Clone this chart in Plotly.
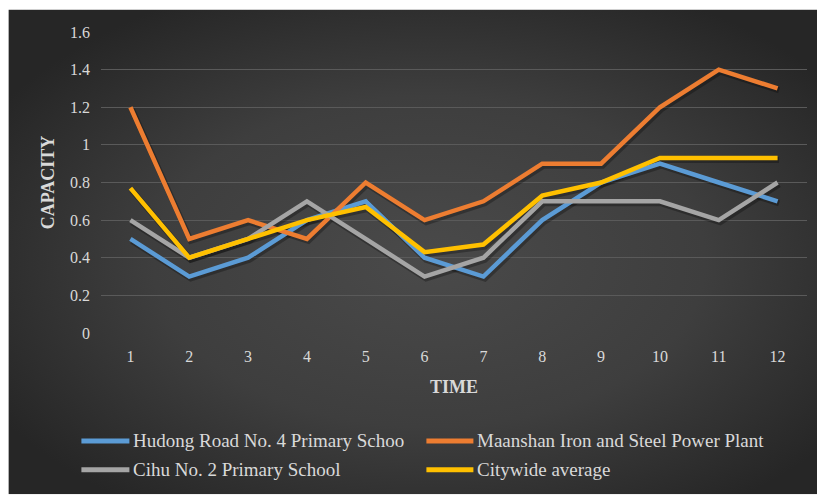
import base64
import plotly.graph_objects as go

# ---- data -------------------------------------------------------------
months = [1, 2, 3, 4, 5, 6, 7, 8, 9, 10, 11, 12]
hudong = [0.5, 0.3, 0.4, 0.6, 0.7, 0.4, 0.3, 0.6, 0.8, 0.9, 0.8, 0.7]
maanshan = [1.2, 0.5, 0.6, 0.5, 0.8, 0.6, 0.7, 0.9, 0.9, 1.2, 1.4, 1.3]
cihu = [0.6, 0.4, 0.5, 0.7, 0.5, 0.3, 0.4, 0.7, 0.7, 0.7, 0.6, 0.8]
citywide = [0.77, 0.4, 0.5, 0.6, 0.67, 0.43, 0.47, 0.73, 0.8, 0.93, 0.93, 0.93]
y_ticks = [0, 0.2, 0.4, 0.6, 0.8, 1.0, 1.2, 1.4, 1.6]
y_tick_text = ["0", "0.2", "0.4", "0.6", "0.8", "1", "1.2", "1.4", "1.6"]

series = [
    ("Hudong Road No. 4 Primary Schoo", hudong, "#5b9bd5"),
    ("Maanshan Iron and Steel Power Plant", maanshan, "#ed7d31"),
    ("Cihu No. 2 Primary School", cihu, "#a5a5a5"),
    ("Citywide average", citywide, "#ffc000"),
]

# ---- layout geometry (pixels) -----------------------------------------
W, H = 817, 495
ML, MR, MT, MB = 100.6, 10.4, 31.5, 161.7
PW, PH = W - ML - MR, H - MT - MB
FONT = "Liberation Serif"
TEXT = "#d9d9d9"
X_RANGE = [0.5, 12.5]
Y_RANGE = [0, 1.6]


def px_x(x):
    return (x - ML) / PW


def px_y(y):
    return (H - MB - y) / PH


# radial-gradient backdrop for the whole chart area
svg = (
    '<svg xmlns="http://www.w3.org/2000/svg" width="809" height="486" '
    'viewBox="0 0 809 486" preserveAspectRatio="none">'
    '<defs><radialGradient id="g" cx="52%" cy="52%" r="62%">'
    '<stop offset="0" stop-color="#4a4a4a"/>'
    '<stop offset="0.55" stop-color="#3e3e3e"/>'
    '<stop offset="1" stop-color="#262626"/>'
    '</radialGradient></defs>'
    '<rect width="809" height="486" fill="url(#g)"/></svg>'
)
bg_src = "data:image/svg+xml;base64," + base64.b64encode(svg.encode()).decode()

fig = go.Figure()

# empty trace that anchors the visible axes (ticks, grid, titles)
fig.add_trace(go.Scatter(x=[], y=[], mode="lines", hoverinfo="skip", showlegend=False))

# soft drop shadows under each line (drawn on slightly shifted overlay axes)
for name, vals, color in series:
    fig.add_trace(go.Scatter(
        x=months, y=vals, mode="lines", xaxis="x2", yaxis="y2",
        line=dict(color="rgba(0,0,0,0.28)", width=6),
        hoverinfo="skip", showlegend=False,
    ))

# the series themselves, on an unshifted overlay so they sit above the shadows
for name, vals, color in series:
    fig.add_trace(go.Scatter(
        x=months, y=vals, mode="lines", name=name, xaxis="x3", yaxis="y3",
        line=dict(color=color, width=4.5),
        showlegend=False,
    ))

# shadow offset: 1.5 px right, 2 px down
dx = 1.5 * (X_RANGE[1] - X_RANGE[0]) / PW
dy = 2.0 * (Y_RANGE[1] - Y_RANGE[0]) / PH

fig.update_layout(
    width=W, height=H,
    margin=dict(l=ML, r=MR, t=MT, b=MB, pad=0),
    paper_bgcolor="white",
    plot_bgcolor="rgba(0,0,0,0)",
    font=dict(family=FONT, color=TEXT, size=16),
    xaxis=dict(
        type="linear", range=X_RANGE, tickvals=months,
        ticktext=[str(m) for m in months],
        showgrid=False, zeroline=False, showline=False, ticks="",
        tickfont=dict(family=FONT, size=16, color=TEXT), ticklabelstandoff=12,
        title=dict(text="<b>TIME</b>", font=dict(family=FONT, size=18, color=TEXT), standoff=16),
        automargin=False,
    ),
    yaxis=dict(
        range=Y_RANGE, tickvals=y_ticks, ticktext=y_tick_text,
        showgrid=True, gridcolor="#5a5a5a", gridwidth=1,
        zeroline=False, showline=False, ticks="",
        tickfont=dict(family=FONT, size=16, color=TEXT), ticklabelstandoff=10,
        title=dict(text="<b>CAPACITY</b>", font=dict(family=FONT, size=18, color=TEXT), standoff=10),
        automargin=False,
    ),
    xaxis2=dict(range=[X_RANGE[0] - dx, X_RANGE[1] - dx],
                visible=False, anchor="y2", overlaying="x"),
    yaxis2=dict(range=[Y_RANGE[0] + dy, Y_RANGE[1] + dy],
                visible=False, anchor="x2", overlaying="y"),
    xaxis3=dict(range=X_RANGE, visible=False, anchor="y3", overlaying="x"),
    yaxis3=dict(range=Y_RANGE, visible=False, anchor="x3", overlaying="y"),
    images=[dict(
        source=bg_src, xref="paper", yref="paper",
        x=px_x(8), y=px_y(9), sizex=(W - 8) / PW, sizey=(H - 9) / PH,
        xanchor="left", yanchor="top", sizing="stretch", layer="below",
    )],
    showlegend=False,
)

# legend drawn as swatch lines plus labels, two columns by two rows
legend_slots = [(81, 129, 441.5), (426, 473, 441.5), (81, 129, 470.5), (426, 473, 470.5)]
for (name, vals, color), (x0, x1, yy) in zip(series, legend_slots):
    fig.add_shape(
        type="line", xref="paper", yref="paper",
        x0=px_x(x0), x1=px_x(x1), y0=px_y(yy), y1=px_y(yy),
        line=dict(color=color, width=5),
    )
    fig.add_annotation(
        text=name, xref="paper", yref="paper",
        x=px_x(x1 + 2), y=px_y(yy), xanchor="left", yanchor="middle",
        showarrow=False, font=dict(family=FONT, size=19, color=TEXT),
    )

fig.write_html("out.html")
